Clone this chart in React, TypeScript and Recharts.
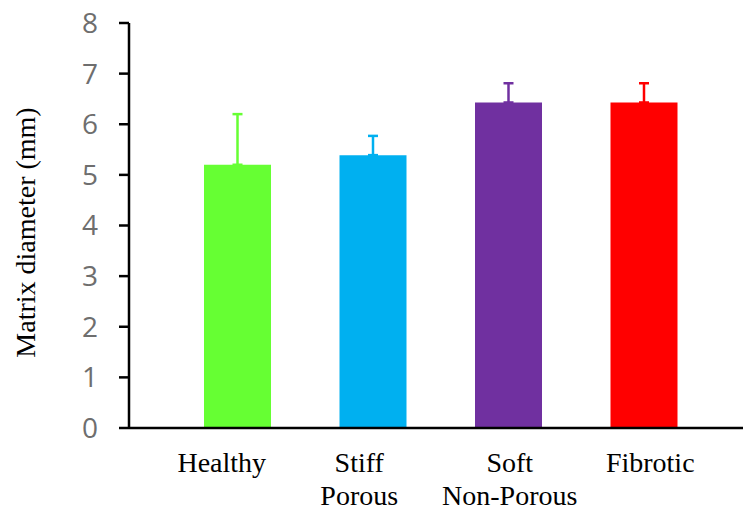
import { useEffect } from 'react';
import { BarChart, Bar, XAxis, YAxis, ErrorBar } from 'recharts';

const groups = ['Healthy', 'Stiff Porous', 'Soft Non-Porous', 'Fibrotic'];
const tickLines = [['Healthy'], ['Stiff', 'Porous'], ['Soft', 'Non-Porous'], ['Fibrotic']];
const diameter = [5.2, 5.39, 6.43, 6.43];
const sdUp = [1.0, 0.38, 0.38, 0.38];
const barColors = ['#66ff33', '#00b0f0', '#7030a0', '#ff0000'];
const keys = ['healthy', 'stiff', 'soft', 'fibrotic'];
const yTicks = [0, 1, 2, 3, 4, 5, 6, 7, 8];

// labels in the original are not quite centred under their bars
const labelShift = [-16, -14, 1, 6];

// one row per group, only its own key set so every bar gets its own colour + error bar
const chartData = groups.map((g, i) => {
  const row: any = { name: g, idx: i };
  row[keys[i]] = diameter[i];
  row[keys[i] + 'Err'] = [0, sdUp[i]];
  return row;
});

const XTick = (props: any) => {
  const { x, y, payload } = props;
  const lines = tickLines[payload.index] || [payload.value];
  const tx = x + (labelShift[payload.index] || 0);
  return (
    <text x={tx} y={y} textAnchor="middle" fill="#000" fontFamily="'Liberation Serif', 'Times New Roman', serif" fontSize={28}>
      {lines.map((l, i) => (
        <tspan key={i} x={tx} dy={i === 0 ? 44 : 33}>{l}</tspan>
      ))}
    </text>
  );
};

const YLabel = (props: any) => {
  const vb = props.viewBox || { x: 0, y: 0, height: 0 };
  const cx = vb.x + 25;
  const cy = vb.y + vb.height / 2 + 7;
  return (
    <text x={cx} y={cy} transform={`rotate(-90, ${cx}, ${cy})`} textAnchor="middle" dominantBaseline="central"
      fill="#000" fontFamily="'Liberation Serif', 'Times New Roman', serif" fontSize={28}>
      Matrix diameter (mm)
    </text>
  );
};

export default function App() {
  useEffect(() => {
    document.body.style.margin = '0';
  }, []);

  return (
    <div style={{ width: 743, height: 510, background: '#fff' }}>
      <BarChart width={743} height={510} data={chartData} margin={{ top: 23, right: 0, left: 0, bottom: 0 }}>
        <XAxis
          dataKey="name"
          height={82}
          axisLine={{ stroke: '#000', strokeWidth: 2.5 }}
          tickLine={false}
          tickSize={0}
          tickMargin={0}
          interval={0}
          padding={{ left: 41, right: 31 }}
          tick={<XTick />}
        />
        <YAxis
          width={129}
          domain={[0, 8]}
          ticks={yTicks}
          interval={0}
          axisLine={{ stroke: '#000', strokeWidth: 2.5 }}
          tickLine={{ stroke: '#000', strokeWidth: 2.5 }}
          tickSize={10}
          tickMargin={21}
          tick={{ fill: '#6e6e6e', fontSize: 28, fontFamily: "'Open Sans', sans-serif" }}
          label={<YLabel />}
        />
        {keys.map((k, i) => (
          <Bar key={k} dataKey={k} stackId="a" fill={barColors[i]} barSize={67} isAnimationActive={false}>
            <ErrorBar dataKey={k + 'Err'} direction="y" width={5} stroke={barColors[i]} strokeWidth={2.5} />
          </Bar>
        ))}
      </BarChart>
    </div>
  );
}
